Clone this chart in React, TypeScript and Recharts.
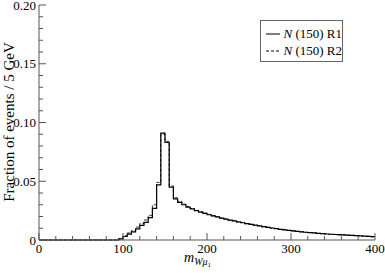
import React from "react";
import { LineChart, Line, XAxis, YAxis, Legend } from "recharts";

const binWidth = 5;
const r1Values: number[] = [
  0, 0, 0, 0, 0, 0, 0, 0, 0, 0, 0, 0, 0, 0, 0, 0, 0, 0, 0,
  0.001, 0.003, 0.005, 0.007, 0.0095, 0.0125, 0.015, 0.019, 0.027, 0.047,
  0.091, 0.083, 0.045, 0.035, 0.032, 0.030, 0.028, 0.0265, 0.025, 0.0238,
  0.0226, 0.0215, 0.0205, 0.0196, 0.0187, 0.0178, 0.017, 0.0162, 0.0155, 0.0147,
  0.014, 0.0133, 0.0126, 0.012, 0.0114, 0.0108, 0.0102, 0.0096, 0.0091, 0.0086,
  0.0082, 0.0078, 0.0074, 0.007, 0.0066, 0.0063, 0.006, 0.0057, 0.0054, 0.0051,
  0.0049, 0.0047, 0.0045, 0.0043, 0.0041, 0.0039, 0.0037, 0.0035, 0.0033, 0.0031,
  0.0029,
];
const r2Values: number[] = [
  0, 0, 0, 0, 0, 0, 0, 0, 0, 0, 0, 0, 0, 0, 0, 0, 0, 0, 0,
  0.0012, 0.0035, 0.006, 0.008, 0.011, 0.014, 0.017, 0.021, 0.030, 0.049,
  0.090, 0.084, 0.046, 0.036, 0.033, 0.0305, 0.0285, 0.0268, 0.0252, 0.0241,
  0.0228, 0.0218, 0.0206, 0.0198, 0.0186, 0.018, 0.0169, 0.0164, 0.0153, 0.0149,
  0.0139, 0.0135, 0.0125, 0.0122, 0.0113, 0.011, 0.0101, 0.0098, 0.009, 0.0088,
  0.0081, 0.0079, 0.0073, 0.0071, 0.0065, 0.0064, 0.0059, 0.0058, 0.0053, 0.0052,
  0.0048, 0.0048, 0.0044, 0.0044, 0.004, 0.004, 0.0036, 0.0036, 0.0032, 0.0032,
  0.0028,
];
const xTicks = [0, 20, 40, 60, 80, 100, 120, 140, 160, 180, 200, 220, 240, 260, 280, 300, 320, 340, 360, 380, 400];
const yTicks = [0, 0.01, 0.02, 0.03, 0.04, 0.05, 0.06, 0.07, 0.08, 0.09, 0.1, 0.11, 0.12, 0.13, 0.14, 0.15, 0.16, 0.17, 0.18, 0.19, 0.2];
const seriesNames = ["R1", "R2"];

const data = r1Values.map((v, i) => ({ x: i * binWidth, r1: v, r2: r2Values[i] }));
data.push({ x: r1Values.length * binWidth, r1: r1Values[r1Values.length - 1], r2: r2Values[r2Values.length - 1] });

const FONT = "Liberation Serif, Times New Roman, Times, serif";
const AXIS = "#555";

const isMajorX = (v: number) => v % 100 === 0;
const isMajorY = (v: number) => Math.round(v * 100) % 5 === 0;

const textStyle = { fontFamily: FONT };

const XTickBottom = (props: any) => {
  const { x, y, payload } = props;
  const major = isMajorX(payload.value);
  return (
    <g>
      <line x1={x} x2={x} y1={y} y2={y - (major ? 7 : 4)} stroke={AXIS} strokeWidth={1} />
      {major && (
        <text x={x} y={y + 13} textAnchor="middle" style={textStyle} fontSize={13} fill="#000">
          {payload.value}
        </text>
      )}
    </g>
  );
};
const XTickTop = (props: any) => {
  const { x, y, payload } = props;
  const major = isMajorX(payload.value);
  return <line x1={x} x2={x} y1={y} y2={y + (major ? 7 : 4)} stroke={AXIS} strokeWidth={1} />;
};
const YTickLeft = (props: any) => {
  const { x, y, payload } = props;
  const v = payload.value as number;
  const major = isMajorY(v);
  return (
    <g>
      <line x1={x} x2={x + (major ? 7 : 4)} y1={y} y2={y} stroke={AXIS} strokeWidth={1} />
      {major && (
        <text x={x - 3} y={y + 4.5} textAnchor="end" style={textStyle} fontSize={13} fill="#000">
          {v === 0 ? "0" : v.toFixed(2)}
        </text>
      )}
    </g>
  );
};
const YTickRight = (props: any) => {
  const { x, y, payload } = props;
  const major = isMajorY(payload.value);
  return <line x1={x} x2={x - (major ? 7 : 4)} y1={y} y2={y} stroke={AXIS} strokeWidth={1} />;
};

const XLabel = () => (
  <text x={184} y={262} style={textStyle} fontSize={14} fill="#000">
    <tspan fontStyle="italic">m</tspan>
    <tspan fontSize={10} dy={3} fontStyle="italic">Wμ</tspan>
    <tspan fontSize={7} dy={2}>1</tspan>
  </text>
);
const YLabel = () => (
  <text x={14} y={122} transform="rotate(-90 14 122)" textAnchor="middle" style={textStyle} fontSize={15} fill="#000">
    Fraction of events / 5 GeV
  </text>
);

const LegendBox = () => (
  <div
    style={{
      border: "1px solid #666",
      background: "#fff",
      width: 81,
      height: 40,
      fontFamily: FONT,
      fontSize: 13,
      color: "#000",
      boxSizing: "content-box",
    }}
  >
    {seriesNames.map((n, i) => (
      <div key={n} style={{ display: "flex", alignItems: "center", height: 17, marginTop: i === 0 ? 4 : 0, whiteSpace: "nowrap" }}>
        <svg width={22} height={10} style={{ marginLeft: 4 }}>
          <line x1={1} x2={15} y1={5} y2={5} stroke="#000" strokeWidth={1} strokeDasharray={i === 1 ? "3 2" : undefined} />
        </svg>
        <span>
          <i>N</i> (150) {n}
        </span>
      </div>
    ))}
  </div>
);

export default function App() {
  return (
    <div style={{ position: "absolute", left: 0, top: 0, width: 385, height: 273, background: "#fff" }}>
      <LineChart width={385} height={273} data={data} margin={{ top: 5, right: 10, bottom: 0, left: 0 }}>
        <XAxis
          dataKey="x"
          type="number"
          domain={[0, 400]}
          ticks={xTicks}
          interval={0}
          tickSize={0}
          tickMargin={0}
          tickLine={false}
          tick={<XTickBottom />}
          height={33}
          stroke={AXIS}
          label={<XLabel />}
        />
        <XAxis
          xAxisId="top"
          orientation="top"
          dataKey="x"
          type="number"
          domain={[0, 400]}
          ticks={xTicks}
          interval={0}
          tickSize={0}
          tickMargin={0}
          tickLine={false}
          tick={<XTickTop />}
          height={0}
          stroke={AXIS}
        />
        <YAxis
          type="number"
          domain={[0, 0.2]}
          ticks={yTicks}
          interval={0}
          tickSize={0}
          tickMargin={0}
          tickLine={false}
          tick={<YTickLeft />}
          width={39}
          stroke={AXIS}
          label={<YLabel />}
        />
        <YAxis
          yAxisId="right"
          orientation="right"
          type="number"
          domain={[0, 0.2]}
          ticks={yTicks}
          interval={0}
          tickSize={0}
          tickMargin={0}
          tickLine={false}
          tick={<YTickRight />}
          width={0}
          stroke={AXIS}
        />
        <Legend
          layout="horizontal"
          align="center"
          verticalAlign="middle"
          wrapperStyle={{ position: "absolute", left: 260, top: 20, width: 83, height: 42 }}
          content={<LegendBox />}
        />
        <Line type="stepAfter" dataKey="r2" stroke="#333" strokeWidth={1} strokeDasharray="3 2" dot={false} isAnimationActive={false} />
        <Line type="stepAfter" dataKey="r1" stroke="#000" strokeWidth={1.2} dot={false} isAnimationActive={false} />
      </LineChart>
    </div>
  );
}
